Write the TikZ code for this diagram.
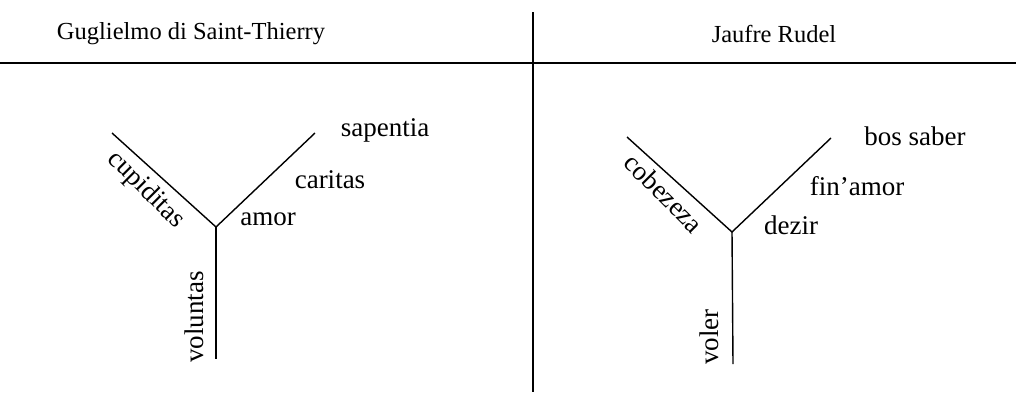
\documentclass[tikz,border=0pt]{standalone}
\usepackage{fontspec}
\setmainfont{Liberation Serif}
\usepackage{tikz}

\begin{document}
\begin{tikzpicture}[x=1pt, y=-1pt,
    head/.style={font=\fontsize{24.5}{28}\selectfont},
    term/.style={font=\fontsize{27}{31}\selectfont, inner sep=0pt},
    rule_line/.style={line width=1.8pt, draw=black},
    branch_line/.style={line width=1.4pt, draw=black}
]
    \useasboundingbox (0,0) rectangle (1016,392);

    % Table frame
    \draw [branch_line] (533,12) -- (533,392);
    \draw [rule_line] (0,63) -- (1016,63);
    \node (head_left) [head] at (191,34) {Guglielmo di Saint-Thierry};
    \node (head_right) [head] at (774,34) {Jaufre Rudel};

    % Left Y
    \coordinate (lc) at (216,227);
    \coordinate (lul) at (112,133);
    \coordinate (lur) at (315,133);
    \coordinate (lb) at (216,359);
    \draw [branch_line] (lul) -- (lc) -- (lur);
    \draw [branch_line] (lc) -- (lb);
    \node (sapentia) [term] at (385,130) {sapentia};
    \node (caritas) [term] at (330,180) {caritas};
    \node (amor) [term] at (268,219) {amor};
    \node (cupiditas) [term, rotate=-45] at (146,190) {cupiditas};
    \node (voluntas) [term, rotate=90] at (194,317) {voluntas};

    % Right Y
    \coordinate (rc) at (732,232);
    \coordinate (rul) at (627,137);
    \coordinate (rur) at (831,138);
    \coordinate (rb) at (733,364);
    \draw [branch_line] (rul) -- (rc) -- (rur);
    \draw [branch_line] (rc) -- (rb);
    \node (bos_saber) [term] at (915,136) {bos saber};
    \node (finamor) [term] at (857,186) {fin’amor};
    \node (dezir) [term] at (791,225) {dezir};
    \node (cobezeza) [term, rotate=-45] at (664,193) {cobezeza};
    \node (voler) [term, rotate=90] at (709,337) {voler};
\end{tikzpicture}
\end{document}
